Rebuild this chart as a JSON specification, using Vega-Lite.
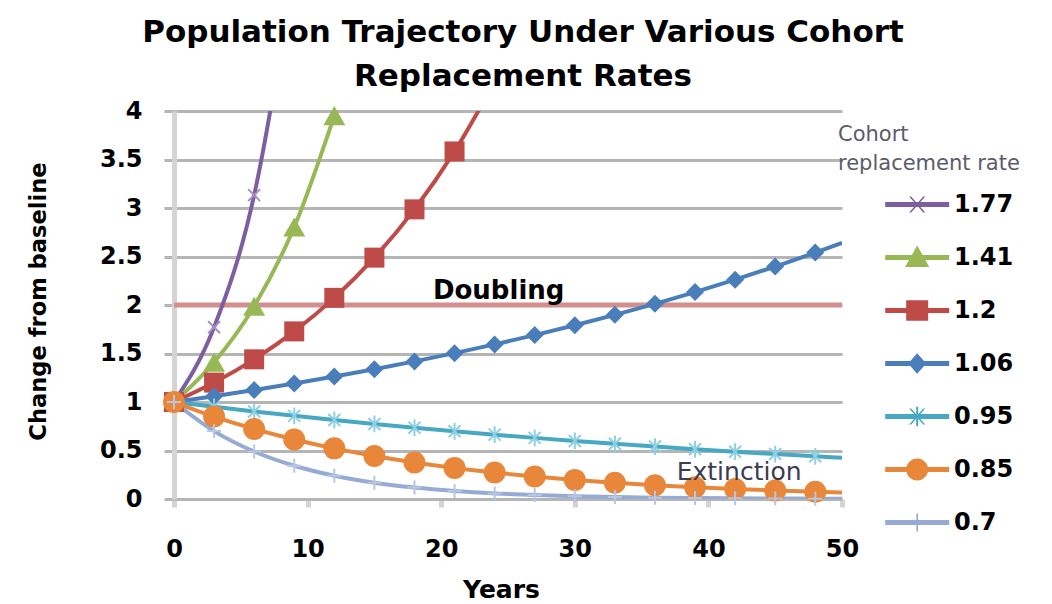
{
  "$schema": "https://vega.github.io/schema/vega-lite/v6.json",
  "width": 668,
  "height": 388,
  "autosize": {"type": "none"},
  "padding": {"left": 174, "top": 111, "right": 210, "bottom": 105},
  "background": "white",
  "title": {
    "text": ["Population Trajectory Under Various Cohort", "Replacement Rates"],
    "font": "DejaVu Sans", "fontSize": 31, "fontWeight": "bold", "color": "#000000",
    "lineHeight": 44, "anchor": "middle", "frame": "group", "dx": 15, "offset": -25, "baseline": "bottom"
  },
  "config": {
    "view": {"stroke": null},
    "axis": {"labelFont": "DejaVu Sans", "titleFont": "DejaVu Sans", "labelFontWeight": "bold", "titleFontWeight": "bold", "labelColor": "#000000", "titleColor": "#000000", "labelFontSize": 24}
  },
  "datasets": {
    "series": [
      {"rate": "1.77", "year": 0, "value": 1}, {"rate": "1.77", "year": 3, "value": 1.77}, {"rate": "1.77", "year": 6, "value": 3.1329}, {"rate": "1.77", "year": 9, "value": 5.5452},
      {"rate": "1.41", "year": 0, "value": 1}, {"rate": "1.41", "year": 3, "value": 1.41}, {"rate": "1.41", "year": 6, "value": 1.9881}, {"rate": "1.41", "year": 9, "value": 2.8032}, {"rate": "1.41", "year": 12, "value": 3.9525},
      {"rate": "1.2", "year": 0, "value": 1}, {"rate": "1.2", "year": 3, "value": 1.2}, {"rate": "1.2", "year": 6, "value": 1.44}, {"rate": "1.2", "year": 9, "value": 1.728}, {"rate": "1.2", "year": 12, "value": 2.0736}, {"rate": "1.2", "year": 15, "value": 2.4883}, {"rate": "1.2", "year": 18, "value": 2.986}, {"rate": "1.2", "year": 21, "value": 3.5832}, {"rate": "1.2", "year": 24, "value": 4.2998},
      {"rate": "1.06", "year": 0, "value": 1}, {"rate": "1.06", "year": 3, "value": 1.06}, {"rate": "1.06", "year": 6, "value": 1.1236}, {"rate": "1.06", "year": 9, "value": 1.191}, {"rate": "1.06", "year": 12, "value": 1.2625}, {"rate": "1.06", "year": 15, "value": 1.3382}, {"rate": "1.06", "year": 18, "value": 1.4185}, {"rate": "1.06", "year": 21, "value": 1.5036}, {"rate": "1.06", "year": 24, "value": 1.5938}, {"rate": "1.06", "year": 27, "value": 1.6895}, {"rate": "1.06", "year": 30, "value": 1.7908}, {"rate": "1.06", "year": 33, "value": 1.8983}, {"rate": "1.06", "year": 36, "value": 2.0122}, {"rate": "1.06", "year": 39, "value": 2.1329}, {"rate": "1.06", "year": 42, "value": 2.2609}, {"rate": "1.06", "year": 45, "value": 2.3966}, {"rate": "1.06", "year": 48, "value": 2.5404}, {"rate": "1.06", "year": 50, "value": 2.641},
      {"rate": "0.95", "year": 0, "value": 1}, {"rate": "0.95", "year": 3, "value": 0.95}, {"rate": "0.95", "year": 6, "value": 0.9025}, {"rate": "0.95", "year": 9, "value": 0.8574}, {"rate": "0.95", "year": 12, "value": 0.8145}, {"rate": "0.95", "year": 15, "value": 0.7738}, {"rate": "0.95", "year": 18, "value": 0.7351}, {"rate": "0.95", "year": 21, "value": 0.6983}, {"rate": "0.95", "year": 24, "value": 0.6634}, {"rate": "0.95", "year": 27, "value": 0.6302}, {"rate": "0.95", "year": 30, "value": 0.5987}, {"rate": "0.95", "year": 33, "value": 0.5688}, {"rate": "0.95", "year": 36, "value": 0.5404}, {"rate": "0.95", "year": 39, "value": 0.5133}, {"rate": "0.95", "year": 42, "value": 0.4877}, {"rate": "0.95", "year": 45, "value": 0.4633}, {"rate": "0.95", "year": 48, "value": 0.4401}, {"rate": "0.95", "year": 50, "value": 0.425},
      {"rate": "0.85", "year": 0, "value": 1}, {"rate": "0.85", "year": 3, "value": 0.85}, {"rate": "0.85", "year": 6, "value": 0.7225}, {"rate": "0.85", "year": 9, "value": 0.6141}, {"rate": "0.85", "year": 12, "value": 0.522}, {"rate": "0.85", "year": 15, "value": 0.4437}, {"rate": "0.85", "year": 18, "value": 0.3771}, {"rate": "0.85", "year": 21, "value": 0.3206}, {"rate": "0.85", "year": 24, "value": 0.2725}, {"rate": "0.85", "year": 27, "value": 0.2316}, {"rate": "0.85", "year": 30, "value": 0.1969}, {"rate": "0.85", "year": 33, "value": 0.1673}, {"rate": "0.85", "year": 36, "value": 0.1422}, {"rate": "0.85", "year": 39, "value": 0.1209}, {"rate": "0.85", "year": 42, "value": 0.1028}, {"rate": "0.85", "year": 45, "value": 0.0874}, {"rate": "0.85", "year": 48, "value": 0.0743}, {"rate": "0.85", "year": 50, "value": 0.0666},
      {"rate": "0.7", "year": 0, "value": 1}, {"rate": "0.7", "year": 3, "value": 0.7}, {"rate": "0.7", "year": 6, "value": 0.49}, {"rate": "0.7", "year": 9, "value": 0.343}, {"rate": "0.7", "year": 12, "value": 0.2401}, {"rate": "0.7", "year": 15, "value": 0.1681}, {"rate": "0.7", "year": 18, "value": 0.1176}, {"rate": "0.7", "year": 21, "value": 0.0824}, {"rate": "0.7", "year": 24, "value": 0.0576}, {"rate": "0.7", "year": 27, "value": 0.0404}, {"rate": "0.7", "year": 30, "value": 0.0282}, {"rate": "0.7", "year": 33, "value": 0.0198}, {"rate": "0.7", "year": 36, "value": 0.0138}, {"rate": "0.7", "year": 39, "value": 0.0097}, {"rate": "0.7", "year": 42, "value": 0.0068}, {"rate": "0.7", "year": 45, "value": 0.0047}, {"rate": "0.7", "year": 48, "value": 0.0033}, {"rate": "0.7", "year": 50, "value": 0.0026}
    ],
    "reference": [{"year": 0, "value": 2}, {"year": 50, "value": 2}],
    "notes": [{"label": "Doubling", "year": 24.3, "value": 2.06}, {"label": "Extinction", "year": 42.3, "value": 0.196}]
  },
  "encoding": {
    "x": {
      "field": "year", "type": "quantitative", "title": "Years",
      "scale": {"domain": [0, 50], "nice": false, "zero": false},
      "axis": {"values": [0, 10, 20, 30, 40, 50], "grid": false, "domainColor": "#b5b5b5", "domainWidth": 3, "tickColor": "#d4d4d4", "tickWidth": 5, "tickSize": 8, "labelPadding": 30, "labelFlush": false, "titleFontSize": 25, "titleX": 327, "titleY": 98, "titleBaseline": "alphabetic", "titleAlign": "center"}
    },
    "y": {
      "field": "value", "type": "quantitative", "title": "Change from baseline",
      "scale": {"domain": [0, 4], "nice": false, "zero": false},
      "axis": {"values": [0, 0.5, 1, 1.5, 2, 2.5, 3, 3.5, 4], "format": "~g", "grid": true, "gridColor": "#b5b5b5", "gridWidth": 3, "domainColor": "#d4d4d4", "domainWidth": 5, "tickColor": "#b5b5b5", "tickWidth": 3, "tickSize": 10, "labelPadding": 22, "titleFontSize": 22.6, "titleX": -124, "titleY": 190, "titleBaseline": "bottom", "titleAlign": "center", "titleAngle": 270}
    }
  },
  "layer": [
    {"data": {"name": "reference"}, "mark": {"type": "line", "color": "#D38E8E", "strokeWidth": 5}, "encoding": {}},
    {"data": {"name": "series"}, "transform": [{"filter": "datum.rate === '1.77'"}], "mark": {"type": "line", "strokeWidth": 4, "interpolate": "monotone", "clip": true, "color": "#7D5FA0"}, "encoding": {}},
    {"data": {"name": "series"}, "transform": [{"filter": "datum.rate === '1.41'"}], "mark": {"type": "line", "strokeWidth": 4, "interpolate": "monotone", "clip": true, "color": "#98B856"}, "encoding": {}},
    {"data": {"name": "series"}, "transform": [{"filter": "datum.rate === '1.2'"}], "mark": {"type": "line", "strokeWidth": 4, "interpolate": "monotone", "clip": true, "color": "#BE4B48"}, "encoding": {}},
    {"data": {"name": "series"}, "transform": [{"filter": "datum.rate === '1.06'"}], "mark": {"type": "line", "strokeWidth": 4, "interpolate": "monotone", "clip": true, "color": "#4A7EBB"}, "encoding": {}},
    {"data": {"name": "series"}, "transform": [{"filter": "datum.rate === '0.95'"}], "mark": {"type": "line", "strokeWidth": 4, "interpolate": "monotone", "clip": true, "color": "#46A8C2"}, "encoding": {}},
    {"data": {"name": "series"}, "transform": [{"filter": "datum.rate === '0.85'"}], "mark": {"type": "line", "strokeWidth": 4, "interpolate": "monotone", "clip": true, "color": "#E8873A"}, "encoding": {}},
    {"data": {"name": "series"}, "transform": [{"filter": "datum.rate === '0.7'"}], "mark": {"type": "line", "strokeWidth": 4, "interpolate": "monotone", "clip": true, "color": "#95ABD5"}, "encoding": {}},
    {
      "data": {"name": "series"},
      "transform": [{"filter": "datum.rate === '1.77' && datum.year % 3 === 0 && datum.value <= 4.1"}],
      "mark": {"type": "point", "shape": "M-1,-1L1,1M-1,1L1,-1", "filled": false, "strokeWidth": 2, "size": 144, "color": "#A590C0", "opacity": 1}
    },
    {
      "data": {"name": "series"},
      "transform": [{"filter": "datum.rate === '1.41' && datum.year % 3 === 0 && datum.value <= 4.1"}],
      "mark": {"type": "point", "shape": "triangle-up", "filled": true, "size": 484, "color": "#98B856", "opacity": 1}
    },
    {
      "data": {"name": "series"},
      "transform": [{"filter": "datum.rate === '1.2' && datum.year % 3 === 0 && datum.value <= 4.1"}],
      "mark": {"type": "point", "shape": "square", "filled": true, "size": 400, "color": "#BE4B48", "opacity": 1}
    },
    {
      "data": {"name": "series"},
      "transform": [{"filter": "datum.rate === '1.06' && datum.year % 3 === 0 && datum.value <= 4.1"}],
      "mark": {"type": "point", "shape": "diamond", "filled": true, "size": 324, "color": "#4A7EBB", "opacity": 1}
    },
    {
      "data": {"name": "series"},
      "transform": [{"filter": "datum.rate === '0.95' && datum.year % 3 === 0 && datum.value <= 4.1"}],
      "mark": {"type": "point", "shape": "M-1,-1L1,1M-1,1L1,-1M0,-1.4L0,1.4", "filled": false, "strokeWidth": 2, "size": 144, "color": "#8FCFE0", "opacity": 1}
    },
    {
      "data": {"name": "series"},
      "transform": [{"filter": "datum.rate === '0.85' && datum.year % 3 === 0 && datum.value <= 4.1"}],
      "mark": {"type": "point", "shape": "circle", "filled": true, "size": 484, "color": "#E8873A", "opacity": 1}
    },
    {
      "data": {"name": "series"},
      "transform": [{"filter": "datum.rate === '0.7' && datum.year % 3 === 0 && datum.value <= 4.1"}],
      "mark": {"type": "point", "shape": "M0,-1L0,1M-1,0L1,0", "filled": false, "strokeWidth": 2, "size": 196, "color": "#B7C6E3", "opacity": 1}
    },
    {
      "data": {"name": "notes"},
      "transform": [{"filter": "datum.label === 'Doubling'"}],
      "mark": {"type": "text", "font": "DejaVu Sans", "fontSize": 26, "fontWeight": "bold", "color": "#000000", "baseline": "alphabetic", "align": "center"},
      "encoding": {"text": {"field": "label"}}
    },
    {
      "data": {"name": "notes"},
      "transform": [{"filter": "datum.label === 'Extinction'"}],
      "mark": {"type": "text", "font": "DejaVu Sans", "fontSize": 25, "fontWeight": "normal", "color": "#3c3c50", "baseline": "alphabetic", "align": "center"},
      "encoding": {"text": {"field": "label"}}
    },
    {
      "data": {"name": "series"},
      "transform": [{"filter": "datum.value > 100"}],
      "mark": {"type": "point", "filled": true, "opacity": 1, "size": 6496},
      "encoding": {
        "color": {"field": "rate", "type": "nominal",
          "scale": {"domain": ["1.77", "1.41", "1.2", "1.06", "0.95", "0.85", "0.7"], "range": ["#7D5FA0", "#98B856", "#BE4B48", "#4A7EBB", "#46A8C2", "#E8873A", "#95ABD5"]},
          "legend": {"title": ["Cohort", "replacement rate"], "orient": "right", "offset": -17, "padding": 13, "titleFont": "DejaVu Sans", "titleFontSize": 21, "titleFontWeight": "normal", "titleColor": "#5b5b6b", "titleLineHeight": 29, "titlePadding": -10, "titleLimit": 400, "labelFont": "DejaVu Sans", "labelFontSize": 24, "labelFontWeight": "bold", "labelColor": "#000000", "labelOffset": 35, "symbolSize": 6496, "symbolOffset": 0, "rowPadding": 0, "symbolStrokeWidth": 0, "symbolOpacity": 1}},
        "shape": {"field": "rate", "type": "nominal",
          "scale": {"domain": ["1.77", "1.41", "1.2", "1.06", "0.95", "0.85", "0.7"], "range": [
            "M0.166,-0.062H1.754V0.062H0.166Z M0.76,-0.2L0.81,-0.2L1.16,0.2L1.11,0.2Z M1.11,-0.2L1.16,-0.2L0.81,0.2L0.76,0.2Z",
            "M0.166,-0.062H1.754V0.062H0.166Z M0.96,-0.3L1.26,0.236L0.66,0.236Z",
            "M0.166,-0.062H1.754V0.062H0.166Z M0.687,-0.256H1.233V0.256H0.687Z",
            "M0.166,-0.062H1.754V0.062H0.166Z M0.96,-0.256L1.185,0L0.96,0.256L0.735,0Z",
            "M0.166,-0.062H1.754V0.062H0.166Z M0.76,-0.2L0.81,-0.2L1.16,0.2L1.11,0.2Z M1.11,-0.2L1.16,-0.2L0.81,0.2L0.76,0.2Z M0.935,-0.245H0.985V0.245H0.935Z",
            "M0.166,-0.062H1.754V0.062H0.166Z M0.687,0A0.273,0.273,0,1,1,1.233,0A0.273,0.273,0,1,1,0.687,0Z",
            "M0.166,-0.062H1.754V0.062H0.166Z M0.94,-0.225H0.98V0.225H0.94Z"
          ]},
          "legend": {"title": ["Cohort", "replacement rate"], "orient": "right", "offset": -17, "padding": 13, "titleFont": "DejaVu Sans", "titleFontSize": 21, "titleFontWeight": "normal", "titleColor": "#5b5b6b", "titleLineHeight": 29, "titlePadding": -10, "titleLimit": 400, "labelFont": "DejaVu Sans", "labelFontSize": 24, "labelFontWeight": "bold", "labelColor": "#000000", "labelOffset": 35, "symbolSize": 6496, "symbolOffset": 0, "rowPadding": 0, "symbolStrokeWidth": 0, "symbolOpacity": 1}}
      }
    }
  ]
}
